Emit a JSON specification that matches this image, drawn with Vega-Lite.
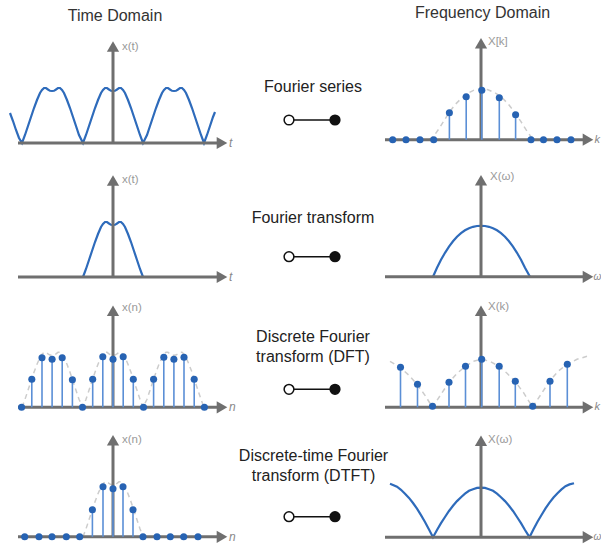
{
"$schema": "https://vega.github.io/schema/vega-lite/v6.json",
"padding": 0,
"background": "white",
"columns": 3,
"spacing": 0,
"bounds": "flush",
"config": {"view": {"stroke": null}, "font": "Liberation Sans", "concat": {"spacing": 0}},
"datasets": {
"axL": [{"t":-95,"t2":108,"v":0,"v2":0},{"t":0,"t2":0,"v":0,"v2":94}],
"axR": [{"t":-96,"t2":106,"v":0,"v2":0},{"t":0,"t2":0,"v":0,"v2":94}],
"arL": [{"t":0,"v":96.5,"dir":"up"},{"t":109,"v":0,"dir":"right"}],
"arR": [{"t":0,"v":96.5,"dir":"up"},{"t":107,"v":0,"dir":"right"}],
"periodic": [{"t":-103,"v":30},{"t":-100,"v":22},{"t":-97,"v":13},{"t":-94,"v":5},{"t":-91,"v":0},{"t":-88,"v":8},{"t":-85,"v":17},{"t":-82,"v":26},{"t":-79,"v":35},{"t":-76,"v":43},{"t":-73,"v":50},{"t":-71,"v":53},{"t":-69,"v":55},{"t":-67,"v":55},{"t":-65,"v":53.5},{"t":-63,"v":52.2},{"t":-61,"v":52},{"t":-59,"v":52.2},{"t":-57,"v":53.5},{"t":-55,"v":55},{"t":-53,"v":55},{"t":-51,"v":53},{"t":-49,"v":50},{"t":-46,"v":43},{"t":-43,"v":35},{"t":-40,"v":26},{"t":-37,"v":17},{"t":-34,"v":8},{"t":-30,"v":0},{"t":-27,"v":8},{"t":-24,"v":17},{"t":-21,"v":26},{"t":-18,"v":35},{"t":-15,"v":43},{"t":-12,"v":50},{"t":-10,"v":53},{"t":-8,"v":55},{"t":-6,"v":55},{"t":-4,"v":53.5},{"t":-2,"v":52.2},{"t":0,"v":52},{"t":2,"v":52.2},{"t":4,"v":53.5},{"t":6,"v":55},{"t":8,"v":55},{"t":10,"v":53},{"t":12,"v":50},{"t":15,"v":43},{"t":18,"v":35},{"t":21,"v":26},{"t":24,"v":17},{"t":27,"v":8},{"t":30,"v":0},{"t":34,"v":8},{"t":37,"v":17},{"t":40,"v":26},{"t":43,"v":35},{"t":46,"v":43},{"t":49,"v":50},{"t":51,"v":53},{"t":53,"v":55},{"t":55,"v":55},{"t":57,"v":53.5},{"t":59,"v":52.2},{"t":61,"v":52},{"t":63,"v":52.2},{"t":65,"v":53.5},{"t":67,"v":55},{"t":69,"v":55},{"t":71,"v":53},{"t":73,"v":50},{"t":76,"v":43},{"t":79,"v":35},{"t":82,"v":26},{"t":85,"v":17},{"t":88,"v":8},{"t":91,"v":0},{"t":94,"v":8},{"t":97,"v":17},{"t":100,"v":26},{"t":102,"v":31}],
"lobe": [{"t":-30,"v":0},{"t":-27,"v":8},{"t":-24,"v":17},{"t":-21,"v":26},{"t":-18,"v":35},{"t":-15,"v":43},{"t":-12,"v":50},{"t":-10,"v":53},{"t":-8,"v":55},{"t":-6,"v":55},{"t":-4,"v":53.5},{"t":-2,"v":52.2},{"t":0,"v":52},{"t":2,"v":52.2},{"t":4,"v":53.5},{"t":6,"v":55},{"t":8,"v":55},{"t":10,"v":53},{"t":12,"v":50},{"t":15,"v":43},{"t":18,"v":35},{"t":21,"v":26},{"t":24,"v":17},{"t":27,"v":8},{"t":30,"v":0}],
"dots3": [{"t":-91.4,"v":0},{"t":-81.2,"v":28},{"t":-71,"v":49.5},{"t":-60.9,"v":48},{"t":-50.8,"v":49.5},{"t":-40.6,"v":27.5},{"t":-30.5,"v":0},{"t":-20.3,"v":28},{"t":-10.2,"v":50.5},{"t":0,"v":48},{"t":10.2,"v":50.5},{"t":20.3,"v":28},{"t":30.5,"v":0},{"t":40.6,"v":28},{"t":50.8,"v":50},{"t":60.9,"v":48},{"t":71,"v":50},{"t":81.2,"v":28},{"t":91.4,"v":0}],
"dots4": [{"t":-88.3,"v":0},{"t":-74,"v":0},{"t":-61,"v":0},{"t":-46.7,"v":0},{"t":-33.3,"v":0},{"t":-20.6,"v":27},{"t":-10,"v":50},{"t":0,"v":48},{"t":10,"v":50},{"t":20,"v":27},{"t":30,"v":0},{"t":44,"v":0},{"t":57.3,"v":0},{"t":70.7,"v":0},{"t":85,"v":0}],
"stems1": [{"t":-88.3,"v":0},{"t":-75,"v":0},{"t":-61,"v":0},{"t":-47.3,"v":0},{"t":-31.6,"v":27},{"t":-14.8,"v":43},{"t":0.8,"v":49.5},{"t":18.3,"v":42},{"t":34.6,"v":25},{"t":50,"v":0},{"t":62.5,"v":0},{"t":76,"v":0},{"t":90,"v":0}],
"env1": [{"t":-52,"v":0},{"t":-47,"v":4},{"t":-42,"v":11},{"t":-37,"v":19},{"t":-32,"v":27},{"t":-26,"v":35},{"t":-20,"v":41},{"t":-14,"v":46},{"t":-7,"v":49.5},{"t":0,"v":51},{"t":7,"v":50},{"t":14,"v":47},{"t":20,"v":43},{"t":27,"v":36},{"t":34,"v":27},{"t":40,"v":18},{"t":45,"v":10},{"t":50,"v":3},{"t":54,"v":0}],
"ft": [{"t":-48,"v":0},{"t":-44,"v":9},{"t":-40,"v":17},{"t":-36,"v":24},{"t":-32,"v":30.2},{"t":-28,"v":35.5},{"t":-24,"v":40},{"t":-20,"v":43.6},{"t":-16,"v":46.5},{"t":-12,"v":48.6},{"t":-8,"v":50},{"t":-4,"v":50.8},{"t":0,"v":51},{"t":4,"v":50.8},{"t":8,"v":50},{"t":12,"v":48.6},{"t":16,"v":46.5},{"t":20,"v":43.6},{"t":24,"v":40},{"t":28,"v":35.5},{"t":32,"v":30.2},{"t":36,"v":24},{"t":40,"v":17},{"t":44,"v":9},{"t":49,"v":0}],
"stems3": [{"t":-80.5,"v":40},{"t":-63.5,"v":23},{"t":-48.5,"v":1},{"t":-32,"v":25},{"t":-15.5,"v":41},{"t":0.7,"v":48},{"t":18.2,"v":41},{"t":34.3,"v":26},{"t":51.7,"v":1},{"t":69,"v":26},{"t":86.3,"v":43}],
"env3": [{"t":-91,"v":46},{"t":-81,"v":40},{"t":-72,"v":32},{"t":-64,"v":23},{"t":-56,"v":12},{"t":-48.5,"v":0},{"t":-40,"v":13},{"t":-32,"v":25},{"t":-24,"v":34},{"t":-15.5,"v":41},{"t":-8,"v":46},{"t":0.5,"v":48},{"t":9,"v":46},{"t":18,"v":41},{"t":26,"v":34},{"t":34,"v":26},{"t":43,"v":14},{"t":51.5,"v":0},{"t":60,"v":13},{"t":68.5,"v":26},{"t":77,"v":36},{"t":86,"v":43},{"t":96,"v":48},{"t":106,"v":51}],
"dtft": [{"t":-91,"v":53.5},{"t":-88,"v":52.3},{"t":-84,"v":50.5},{"t":-80,"v":47.4},{"t":-76,"v":43.5},{"t":-72,"v":39.3},{"t":-68,"v":34.2},{"t":-64,"v":28.5},{"t":-60,"v":22},{"t":-56,"v":15.2},{"t":-52,"v":7.8},{"t":-48,"v":0},{"t":-44,"v":7.2},{"t":-40,"v":14},{"t":-36,"v":20.2},{"t":-32,"v":26.2},{"t":-28,"v":31.4},{"t":-24,"v":36.1},{"t":-20,"v":40},{"t":-16,"v":43.5},{"t":-12,"v":46.4},{"t":-8,"v":48},{"t":-4,"v":49.3},{"t":0,"v":49.6},{"t":4,"v":49.3},{"t":8,"v":48},{"t":12,"v":46.4},{"t":16,"v":43.5},{"t":20,"v":40},{"t":24,"v":36.1},{"t":28,"v":31.4},{"t":32,"v":26.2},{"t":36,"v":20.2},{"t":40,"v":14},{"t":44,"v":7.2},{"t":48.5,"v":0},{"t":52.5,"v":7.9},{"t":56.5,"v":15.4},{"t":60.5,"v":22.2},{"t":64.5,"v":28.8},{"t":68.5,"v":34.5},{"t":72.5,"v":39.7},{"t":76.5,"v":43.9},{"t":80.5,"v":47.8},{"t":84.5,"v":51},{"t":88.5,"v":52.8},{"t":93,"v":54}]
},
"concat": [
{"width":240,"height":30,"data":{"values":[{"t":2,"v":16,"label":"Time Domain"}]},"mark":{"type":"text","fontSize":16,"color":"#333333","align":"center","baseline":"middle"},"encoding":{"x":{"field":"t","type":"quantitative","scale":{"domain":[-113,127],"nice":false,"zero":false},"axis":null},"y":{"field":"v","type":"quantitative","scale":{"domain":[0,30],"reverse":true,"nice":false,"zero":false},"axis":null},"text":{"field":"label"}}},
{"width":125,"height":30,"data":{"values":[{"t":0,"v":15,"label":""}]},"mark":{"type":"text"},"encoding":{"x":{"field":"t","type":"quantitative","scale":{"domain":[-73,52],"nice":false,"zero":false},"axis":null},"y":{"field":"v","type":"quantitative","scale":{"domain":[0,30],"reverse":true,"nice":false,"zero":false},"axis":null},"text":{"field":"label"}}},
{"width":236,"height":30,"data":{"values":[{"t":1.5,"v":12.5,"label":"Frequency Domain"}]},"mark":{"type":"text","fontSize":16,"color":"#333333","align":"center","baseline":"middle"},"encoding":{"x":{"field":"t","type":"quantitative","scale":{"domain":[-116,120],"nice":false,"zero":false},"axis":null},"y":{"field":"v","type":"quantitative","scale":{"domain":[0,30],"reverse":true,"nice":false,"zero":false},"axis":null},"text":{"field":"label"}}},

{"width":240,"height":130,
"encoding":{"x":{"field":"t","type":"quantitative","scale":{"domain":[-113,127],"nice":false,"zero":false},"axis":null},"y":{"field":"v","type":"quantitative","scale":{"domain":[-17,113],"nice":false,"zero":false},"axis":null}},
"layer":[
{"data":{"name":"periodic"},"mark":{"type":"line","color":"#2e6bbb","strokeWidth":2.2}},
{"data":{"name":"axL"},"mark":{"type":"rule","color":"#6f6f6f","strokeWidth":3},"encoding":{"x2":{"field":"t2"},"y2":{"field":"v2"}}},
{"data":{"name":"arL"},"mark":{"type":"point","filled":true,"color":"#6f6f6f","opacity":1,"size":150},"encoding":{"shape":{"field":"dir","type":"nominal","scale":{"domain":["up","right"],"range":["triangle-up","triangle-right"]},"legend":null}}},
{"data":{"values":[{"t":9,"v":96,"label":"x(t)"}]},"mark":{"type":"text","fontSize":11.5,"color":"#999999","align":"left","baseline":"middle"},"encoding":{"text":{"field":"label"}}},
{"data":{"values":[{"t":116,"v":0,"label":"t"}]},"mark":{"type":"text","fontSize":12,"fontStyle":"italic","color":"#888888","align":"left","baseline":"middle"},"encoding":{"text":{"field":"label"}}}
]},
{"width":125,"height":130,
"encoding":{"x":{"field":"t","type":"quantitative","scale":{"domain":[-73,52],"nice":false,"zero":false},"axis":null},"y":{"field":"v","type":"quantitative","scale":{"domain":[0,130],"reverse":true,"nice":false,"zero":false},"axis":null}},
"layer":[
{"data":{"values":[{"t":0,"v":57,"label":"Fourier series"}]},"mark":{"type":"text","fontSize":16,"color":"#222222","align":"center","baseline":"middle"},"encoding":{"text":{"field":"label"}}},
{"data":{"values":[{"t":-24,"t2":22,"v":90}]},"mark":{"type":"rule","color":"#111111","strokeWidth":1.5},"encoding":{"x2":{"field":"t2"}}},
{"data":{"values":[{"t":-24,"v":90,"kind":"open"},{"t":22,"v":90,"kind":"filled"}]},"mark":{"type":"point","shape":"circle","filled":true,"stroke":"#111111","strokeWidth":1.5,"opacity":1,"size":95},"encoding":{"fill":{"field":"kind","type":"nominal","scale":{"domain":["open","filled"],"range":["#ffffff","#111111"]},"legend":null}}}
]},
{"width":236,"height":130,
"encoding":{"x":{"field":"t","type":"quantitative","scale":{"domain":[-116,120],"nice":false,"zero":false},"axis":null},"y":{"field":"v","type":"quantitative","scale":{"domain":[-20.3,109.7],"nice":false,"zero":false},"axis":null}},
"layer":[
{"data":{"name":"env1"},"mark":{"type":"line","color":"#cccccc","strokeWidth":1.5,"strokeDash":[5,4]}},
{"data":{"name":"axR"},"mark":{"type":"rule","color":"#6f6f6f","strokeWidth":3},"encoding":{"x2":{"field":"t2"},"y2":{"field":"v2"}}},
{"data":{"name":"arR"},"mark":{"type":"point","filled":true,"color":"#6f6f6f","opacity":1,"size":150},"encoding":{"shape":{"field":"dir","type":"nominal","scale":{"domain":["up","right"],"range":["triangle-up","triangle-right"]},"legend":null}}},
{"data":{"name":"stems1"},"mark":{"type":"rule","color":"#5b8fd6","strokeWidth":1.6},"encoding":{"y":{"datum":0},"y2":{"field":"v"}}},
{"data":{"name":"stems1"},"mark":{"type":"point","shape":"circle","filled":true,"color":"#2763b3","opacity":1,"size":50}},
{"data":{"values":[{"t":7,"v":97.5,"label":"X[k]"}]},"mark":{"type":"text","fontSize":11.5,"color":"#999999","align":"left","baseline":"middle"},"encoding":{"text":{"field":"label"}}},
{"data":{"values":[{"t":113.5,"v":0,"label":"k"}]},"mark":{"type":"text","fontSize":11,"fontStyle":"italic","color":"#888888","align":"left","baseline":"middle"},"encoding":{"text":{"field":"label"}}}
]},

{"width":240,"height":130,
"encoding":{"x":{"field":"t","type":"quantitative","scale":{"domain":[-113,127],"nice":false,"zero":false},"axis":null},"y":{"field":"v","type":"quantitative","scale":{"domain":[-13,117],"nice":false,"zero":false},"axis":null}},
"layer":[
{"data":{"name":"lobe"},"mark":{"type":"line","color":"#2e6bbb","strokeWidth":2.2}},
{"data":{"name":"axL"},"mark":{"type":"rule","color":"#6f6f6f","strokeWidth":3},"encoding":{"x2":{"field":"t2"},"y2":{"field":"v2"}}},
{"data":{"name":"arL"},"mark":{"type":"point","filled":true,"color":"#6f6f6f","opacity":1,"size":150},"encoding":{"shape":{"field":"dir","type":"nominal","scale":{"domain":["up","right"],"range":["triangle-up","triangle-right"]},"legend":null}}},
{"data":{"values":[{"t":9,"v":97,"label":"x(t)"}]},"mark":{"type":"text","fontSize":11.5,"color":"#999999","align":"left","baseline":"middle"},"encoding":{"text":{"field":"label"}}},
{"data":{"values":[{"t":116,"v":0,"label":"t"}]},"mark":{"type":"text","fontSize":12,"fontStyle":"italic","color":"#888888","align":"left","baseline":"middle"},"encoding":{"text":{"field":"label"}}}
]},
{"width":125,"height":130,
"encoding":{"x":{"field":"t","type":"quantitative","scale":{"domain":[-73,52],"nice":false,"zero":false},"axis":null},"y":{"field":"v","type":"quantitative","scale":{"domain":[0,130],"reverse":true,"nice":false,"zero":false},"axis":null}},
"layer":[
{"data":{"values":[{"t":0,"v":58,"label":"Fourier transform"}]},"mark":{"type":"text","fontSize":16,"color":"#222222","align":"center","baseline":"middle"},"encoding":{"text":{"field":"label"}}},
{"data":{"values":[{"t":-24,"t2":22,"v":96.7}]},"mark":{"type":"rule","color":"#111111","strokeWidth":1.5},"encoding":{"x2":{"field":"t2"}}},
{"data":{"values":[{"t":-24,"v":96.7,"kind":"open"},{"t":22,"v":96.7,"kind":"filled"}]},"mark":{"type":"point","shape":"circle","filled":true,"stroke":"#111111","strokeWidth":1.5,"opacity":1,"size":95},"encoding":{"fill":{"field":"kind","type":"nominal","scale":{"domain":["open","filled"],"range":["#ffffff","#111111"]},"legend":null}}}
]},
{"width":236,"height":130,
"encoding":{"x":{"field":"t","type":"quantitative","scale":{"domain":[-116,120],"nice":false,"zero":false},"axis":null},"y":{"field":"v","type":"quantitative","scale":{"domain":[-13.2,116.8],"nice":false,"zero":false},"axis":null}},
"layer":[
{"data":{"name":"ft"},"mark":{"type":"line","color":"#2e6bbb","strokeWidth":2.2}},
{"data":{"name":"axR"},"mark":{"type":"rule","color":"#6f6f6f","strokeWidth":3},"encoding":{"x2":{"field":"t2"},"y2":{"field":"v2"}}},
{"data":{"name":"arR"},"mark":{"type":"point","filled":true,"color":"#6f6f6f","opacity":1,"size":150},"encoding":{"shape":{"field":"dir","type":"nominal","scale":{"domain":["up","right"],"range":["triangle-up","triangle-right"]},"legend":null}}},
{"data":{"values":[{"t":9,"v":100,"label":"X(ω)"}]},"mark":{"type":"text","fontSize":11.5,"color":"#999999","align":"left","baseline":"middle"},"encoding":{"text":{"field":"label"}}},
{"data":{"values":[{"t":112.5,"v":0,"label":"ω"}]},"mark":{"type":"text","fontSize":10,"fontStyle":"italic","color":"#888888","align":"left","baseline":"middle"},"encoding":{"text":{"field":"label"}}}
]},

{"width":240,"height":130,
"encoding":{"x":{"field":"t","type":"quantitative","scale":{"domain":[-113,127],"nice":false,"zero":false},"axis":null},"y":{"field":"v","type":"quantitative","scale":{"domain":[-12.7,117.3],"nice":false,"zero":false},"axis":null}},
"layer":[
{"data":{"name":"periodic"},"transform":[{"filter":"abs(datum.t) <= 92"}],"mark":{"type":"line","color":"#cccccc","strokeWidth":1.5,"strokeDash":[5,4]}},
{"data":{"name":"axL"},"mark":{"type":"rule","color":"#6f6f6f","strokeWidth":3},"encoding":{"x2":{"field":"t2"},"y2":{"field":"v2"}}},
{"data":{"name":"arL"},"mark":{"type":"point","filled":true,"color":"#6f6f6f","opacity":1,"size":150},"encoding":{"shape":{"field":"dir","type":"nominal","scale":{"domain":["up","right"],"range":["triangle-up","triangle-right"]},"legend":null}}},
{"data":{"name":"dots3"},"mark":{"type":"rule","color":"#5b8fd6","strokeWidth":1.6},"encoding":{"y":{"datum":0},"y2":{"field":"v"}}},
{"data":{"name":"dots3"},"mark":{"type":"point","shape":"circle","filled":true,"color":"#2763b3","opacity":1,"size":50}},
{"data":{"values":[{"t":9,"v":99,"label":"x(n)"}]},"mark":{"type":"text","fontSize":11.5,"color":"#999999","align":"left","baseline":"middle"},"encoding":{"text":{"field":"label"}}},
{"data":{"values":[{"t":116,"v":0,"label":"n"}]},"mark":{"type":"text","fontSize":12,"fontStyle":"italic","color":"#888888","align":"left","baseline":"middle"},"encoding":{"text":{"field":"label"}}}
]},
{"width":125,"height":130,
"encoding":{"x":{"field":"t","type":"quantitative","scale":{"domain":[-73,52],"nice":false,"zero":false},"axis":null},"y":{"field":"v","type":"quantitative","scale":{"domain":[0,130],"reverse":true,"nice":false,"zero":false},"axis":null}},
"layer":[
{"data":{"values":[{"t":0,"v":46.7,"label":"Discrete Fourier"},{"t":0,"v":66.5,"label":"transform (DFT)"}]},"mark":{"type":"text","fontSize":16,"color":"#222222","align":"center","baseline":"middle"},"encoding":{"text":{"field":"label"}}},
{"data":{"values":[{"t":-24,"t2":22,"v":99.3}]},"mark":{"type":"rule","color":"#111111","strokeWidth":1.5},"encoding":{"x2":{"field":"t2"}}},
{"data":{"values":[{"t":-24,"v":99.3,"kind":"open"},{"t":22,"v":99.3,"kind":"filled"}]},"mark":{"type":"point","shape":"circle","filled":true,"stroke":"#111111","strokeWidth":1.5,"opacity":1,"size":95},"encoding":{"fill":{"field":"kind","type":"nominal","scale":{"domain":["open","filled"],"range":["#ffffff","#111111"]},"legend":null}}}
]},
{"width":236,"height":130,
"encoding":{"x":{"field":"t","type":"quantitative","scale":{"domain":[-116,120],"nice":false,"zero":false},"axis":null},"y":{"field":"v","type":"quantitative","scale":{"domain":[-12.7,117.3],"nice":false,"zero":false},"axis":null}},
"layer":[
{"data":{"name":"env3"},"mark":{"type":"line","color":"#cccccc","strokeWidth":1.5,"strokeDash":[5,4]}},
{"data":{"name":"axR"},"mark":{"type":"rule","color":"#6f6f6f","strokeWidth":3},"encoding":{"x2":{"field":"t2"},"y2":{"field":"v2"}}},
{"data":{"name":"arR"},"mark":{"type":"point","filled":true,"color":"#6f6f6f","opacity":1,"size":150},"encoding":{"shape":{"field":"dir","type":"nominal","scale":{"domain":["up","right"],"range":["triangle-up","triangle-right"]},"legend":null}}},
{"data":{"name":"stems3"},"mark":{"type":"rule","color":"#5b8fd6","strokeWidth":1.6},"encoding":{"y":{"datum":0},"y2":{"field":"v"}}},
{"data":{"name":"stems3"},"mark":{"type":"point","shape":"circle","filled":true,"color":"#2763b3","opacity":1,"size":50}},
{"data":{"values":[{"t":7,"v":100,"label":"X(k)"}]},"mark":{"type":"text","fontSize":11.5,"color":"#999999","align":"left","baseline":"middle"},"encoding":{"text":{"field":"label"}}},
{"data":{"values":[{"t":113.5,"v":0,"label":"k"}]},"mark":{"type":"text","fontSize":11,"fontStyle":"italic","color":"#888888","align":"left","baseline":"middle"},"encoding":{"text":{"field":"label"}}}
]},

{"width":240,"height":125,
"encoding":{"x":{"field":"t","type":"quantitative","scale":{"domain":[-113,127],"nice":false,"zero":false},"axis":null},"y":{"field":"v","type":"quantitative","scale":{"domain":[-8.2,116.8],"nice":false,"zero":false},"axis":null}},
"layer":[
{"data":{"name":"lobe"},"mark":{"type":"line","color":"#cccccc","strokeWidth":1.5,"strokeDash":[5,4]}},
{"data":{"name":"axL"},"mark":{"type":"rule","color":"#6f6f6f","strokeWidth":3},"encoding":{"x2":{"field":"t2"},"y2":{"field":"v2"}}},
{"data":{"name":"arL"},"mark":{"type":"point","filled":true,"color":"#6f6f6f","opacity":1,"size":150},"encoding":{"shape":{"field":"dir","type":"nominal","scale":{"domain":["up","right"],"range":["triangle-up","triangle-right"]},"legend":null}}},
{"data":{"name":"dots4"},"mark":{"type":"rule","color":"#5b8fd6","strokeWidth":1.6},"encoding":{"y":{"datum":0},"y2":{"field":"v"}}},
{"data":{"name":"dots4"},"mark":{"type":"point","shape":"circle","filled":true,"color":"#2763b3","opacity":1,"size":50}},
{"data":{"values":[{"t":9,"v":97,"label":"x(n)"}]},"mark":{"type":"text","fontSize":11.5,"color":"#999999","align":"left","baseline":"middle"},"encoding":{"text":{"field":"label"}}},
{"data":{"values":[{"t":116,"v":0,"label":"n"}]},"mark":{"type":"text","fontSize":12,"fontStyle":"italic","color":"#888888","align":"left","baseline":"middle"},"encoding":{"text":{"field":"label"}}}
]},
{"width":125,"height":125,
"encoding":{"x":{"field":"t","type":"quantitative","scale":{"domain":[-73,52],"nice":false,"zero":false},"axis":null},"y":{"field":"v","type":"quantitative","scale":{"domain":[0,125],"reverse":true,"nice":false,"zero":false},"axis":null}},
"layer":[
{"data":{"values":[{"t":0.5,"v":35.5,"label":"Discrete-time Fourier"},{"t":0.5,"v":55.5,"label":"transform (DTFT)"}]},"mark":{"type":"text","fontSize":16,"color":"#222222","align":"center","baseline":"middle"},"encoding":{"text":{"field":"label"}}},
{"data":{"values":[{"t":-24,"t2":22,"v":96.7}]},"mark":{"type":"rule","color":"#111111","strokeWidth":1.5},"encoding":{"x2":{"field":"t2"}}},
{"data":{"values":[{"t":-24,"v":96.7,"kind":"open"},{"t":22,"v":96.7,"kind":"filled"}]},"mark":{"type":"point","shape":"circle","filled":true,"stroke":"#111111","strokeWidth":1.5,"opacity":1,"size":95},"encoding":{"fill":{"field":"kind","type":"nominal","scale":{"domain":["open","filled"],"range":["#ffffff","#111111"]},"legend":null}}}
]},
{"width":236,"height":125,
"encoding":{"x":{"field":"t","type":"quantitative","scale":{"domain":[-116,120],"nice":false,"zero":false},"axis":null},"y":{"field":"v","type":"quantitative","scale":{"domain":[-7.8,117.2],"nice":false,"zero":false},"axis":null}},
"layer":[
{"data":{"name":"dtft"},"mark":{"type":"line","color":"#2e6bbb","strokeWidth":2.2}},
{"data":{"name":"axR"},"mark":{"type":"rule","color":"#6f6f6f","strokeWidth":3},"encoding":{"x2":{"field":"t2"},"y2":{"field":"v2"}}},
{"data":{"name":"arR"},"mark":{"type":"point","filled":true,"color":"#6f6f6f","opacity":1,"size":150},"encoding":{"shape":{"field":"dir","type":"nominal","scale":{"domain":["up","right"],"range":["triangle-up","triangle-right"]},"legend":null}}},
{"data":{"values":[{"t":7,"v":97,"label":"X(ω)"}]},"mark":{"type":"text","fontSize":11.5,"color":"#999999","align":"left","baseline":"middle"},"encoding":{"text":{"field":"label"}}},
{"data":{"values":[{"t":112.5,"v":0,"label":"ω"}]},"mark":{"type":"text","fontSize":10,"fontStyle":"italic","color":"#888888","align":"left","baseline":"middle"},"encoding":{"text":{"field":"label"}}}
]}
]
}
